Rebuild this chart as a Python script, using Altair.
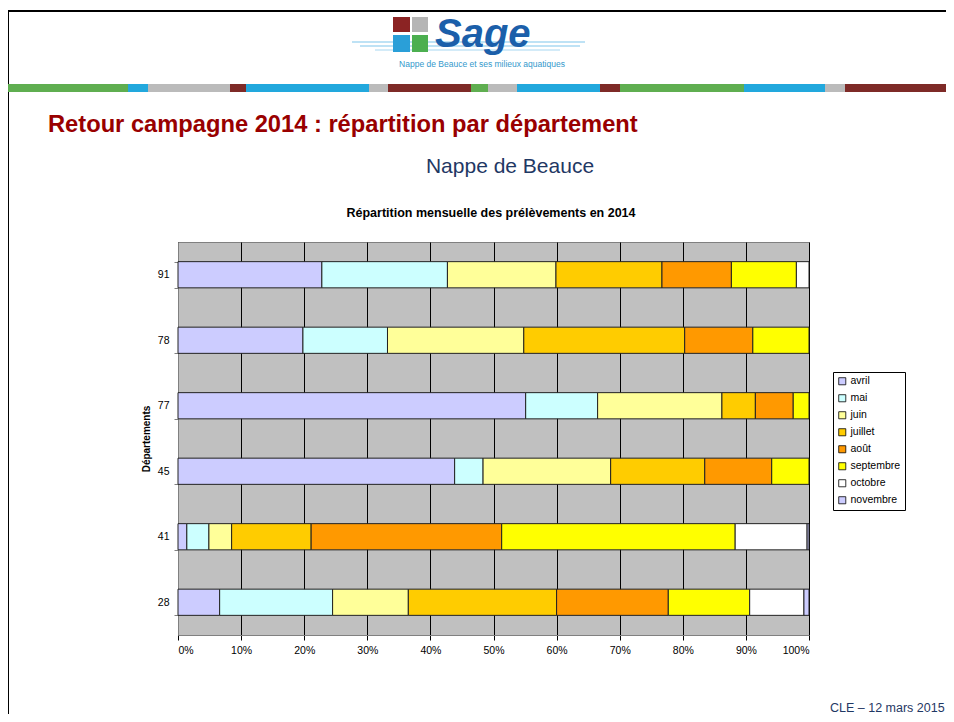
import altair as alt
import pandas as pd

# ---------------- data ----------------
departements = ["91", "78", "77", "45", "41", "28"]
mois = ["avril", "mai", "juin", "juillet", "août", "septembre", "octobre", "novembre"]
couleurs = ["#CCCCFF", "#CCFFFF", "#FFFF99", "#FFCC00", "#FF9900", "#FFFF00", "#FFFFFF", "#CCCCFF"]

v91 = [22.8, 19.9, 17.2, 16.8, 11.0, 10.3, 2.0, 0.0]
v78 = [19.8, 13.4, 21.6, 25.5, 10.8, 8.9, 0.0, 0.0]
v77 = [55.1, 11.4, 19.7, 5.3, 6.0, 2.5, 0.0, 0.0]
v45 = [43.8, 4.5, 20.2, 14.9, 10.6, 5.9, 0.0, 0.0]
v41 = [1.4, 3.5, 3.6, 12.6, 30.2, 37.0, 11.4, 0.3]
v28 = [6.6, 17.9, 12.0, 23.5, 17.7, 12.9, 8.6, 0.8]

x_ticks = [0, 0.1, 0.2, 0.3, 0.4, 0.5, 0.6, 0.7, 0.8, 0.9, 1.0]

titre = "Retour campagne 2014 : répartition par département"
sous_titre = "Nappe de Beauce"
titre_graph = "Répartition mensuelle des prélèvements en 2014"
pied = "CLE – 12 mars 2015"
logo_txt = "Sage"
logo_sous = "Nappe de Beauce et ses milieux aquatiques"

rows = []
for d, vals in zip(departements, [v91, v78, v77, v45, v41, v28]):
    for i, (m, v) in enumerate(zip(mois, vals)):
        if v > 0:
            rows.append({"dept": d, "mois": m, "idx": i, "val": v})
df = pd.DataFrame(rows)

# ---------------- layout (page px -> plot px) ----------------
OX, OY = 178, 242
W, H = 631, 393

# decorative stripe under the logo (page coordinates)
stripe_x0 = [7, 128, 148, 230, 246, 369, 388, 471, 488, 517, 600, 620, 744, 825, 845]
stripe_x1 = [128, 148, 230, 246, 369, 388, 471, 488, 517, 600, 620, 744, 825, 845, 954]
stripe_c = ["#5FAE50", "#22A8DD", "#BBBBBB", "#7E2A27", "#22A8DD", "#BBBBBB", "#7E2A27",
            "#5FAE50", "#BBBBBB", "#22A8DD", "#7E2A27", "#5FAE50", "#22A8DD", "#BBBBBB", "#7E2A27"]
deco = pd.DataFrame({
    "x0": [x - OX for x in stripe_x0] + [393 - OX, 412 - OX, 393 - OX, 412 - OX],
    "x1": [x - OX for x in stripe_x1] + [410 - OX, 428 - OX, 410 - OX, 428 - OX],
    "y0": [84 - OY] * len(stripe_x0) + [17 - OY, 17 - OY, 35 - OY, 35 - OY],
    "y1": [92 - OY] * len(stripe_x0) + [32 - OY, 32 - OY, 52 - OY, 52 - OY],
    "c": stripe_c + ["#8B2323", "#B5B5B5", "#2A9FD8", "#4CAF50"],
})

one = pd.DataFrame({"a": [0]})

bars = alt.Chart(df).mark_bar(stroke="#222222", strokeWidth=1).encode(
    y=alt.Y("dept:N", sort=departements,
            scale=alt.Scale(paddingInner=0.6, paddingOuter=0.3),
            axis=alt.Axis(title="Départements", titleFont="Liberation Sans", titleFontSize=10,
                          titleFontWeight="bold", titlePadding=6, labelFont="Liberation Sans",
                          labelFontSize=10.5, labelColor="black", labelPadding=5,
                          tickBand="extent", tickSize=4, tickColor="#808080",
                          domainColor="#808080", grid=False)),
    x=alt.X("val:Q", stack="normalize",
            scale=alt.Scale(domain=[0, 1], nice=False),
            axis=alt.Axis(title=None, format=".0%", values=x_ticks, labelFont="Liberation Sans",
                          labelFontSize=10.5, labelColor="black", labelPadding=5,
                          tickSize=5, tickColor="#000000", domainColor="#808080",
                          grid=True, gridColor="#000000", gridWidth=1, gridOpacity=1)),
    color=alt.Color("mois:N", scale=alt.Scale(domain=mois, range=couleurs),
                    legend=alt.Legend(title=None, orient="none", legendX=655, legendY=130,
                                      padding=4, strokeColor="#000000", fillColor="#FFFFFF",
                                      labelFont="Liberation Sans", labelFontSize=10.5,
                                      labelColor="black", symbolType="square", symbolSize=50,
                                      symbolStrokeColor="#000000", symbolStrokeWidth=0.8,
                                      rowPadding=6, symbolOffset=0, labelOffset=3)),
    order=alt.Order("idx:Q"),
)

rects = alt.Chart(deco).mark_rect().encode(
    x=alt.X("x0:Q", scale=None, axis=None), x2="x1:Q",
    y=alt.Y("y0:Q", scale=None, axis=None), y2="y1:Q",
    color=alt.Color("c:N", scale=None, legend=None),
)

def txt(s, x, y, size, color, weight="normal", font="Liberation Sans", align="left", italic=False):
    return alt.Chart(one).mark_text(
        text=s, font=font, fontSize=size, fontWeight=weight, color=color, align=align,
        baseline="alphabetic", fontStyle="italic" if italic else "normal",
    ).encode(x=alt.value(x - OX), y=alt.value(y - OY))

def rule(x0, x1, y0, y1, color, width):
    return alt.Chart(one).mark_rule(color=color, strokeWidth=width).encode(
        x=alt.value(x0 - OX), x2=alt.value(x1 - OX), y=alt.value(y0 - OY), y2=alt.value(y1 - OY))

layers = [
    rule(8, 954, 11, 11, "#000000", 2),
    rule(8, 8, 11, 722, "#000000", 2),
    rule(352, 585, 42, 42, "#A8D8F2", 1.5),
    rule(360, 580, 46, 46, "#A8D8F2", 1.5),
    rule(375, 560, 50, 50, "#A8D8F2", 1.2),
    rects,
    txt(logo_txt, 435, 47, 40, "#1B5FAA", weight="bold", italic=True),
    txt(logo_sous, 482, 67, 8.5, "#3399CC", align="center"),
    txt(titre, 48, 132, 23.7, "#990000", weight="bold"),
    txt(sous_titre, 510, 173, 21, "#1F3864", align="center"),
    txt(titre_graph, 491, 217, 12.5, "#000000", weight="bold", align="center"),
    txt(pied, 830, 712, 12.5, "#1F3864"),
    bars,
]

chart = alt.layer(*layers).resolve_scale(
    x="independent", y="independent", color="independent"
).properties(
    width=W, height=H,
    padding={"left": OX - 8, "top": OY - 8, "right": 938 - (OX - 8) - W, "bottom": 706 - (OY - 8) - H},
    autosize=alt.AutoSizeParams(type="none"),
    background="#FFFFFF",
).configure_view(fill="#C0C0C0", stroke="#808080", strokeWidth=1)

chart.save("out.html", embed_options={"renderer": "svg", "actions": False})
